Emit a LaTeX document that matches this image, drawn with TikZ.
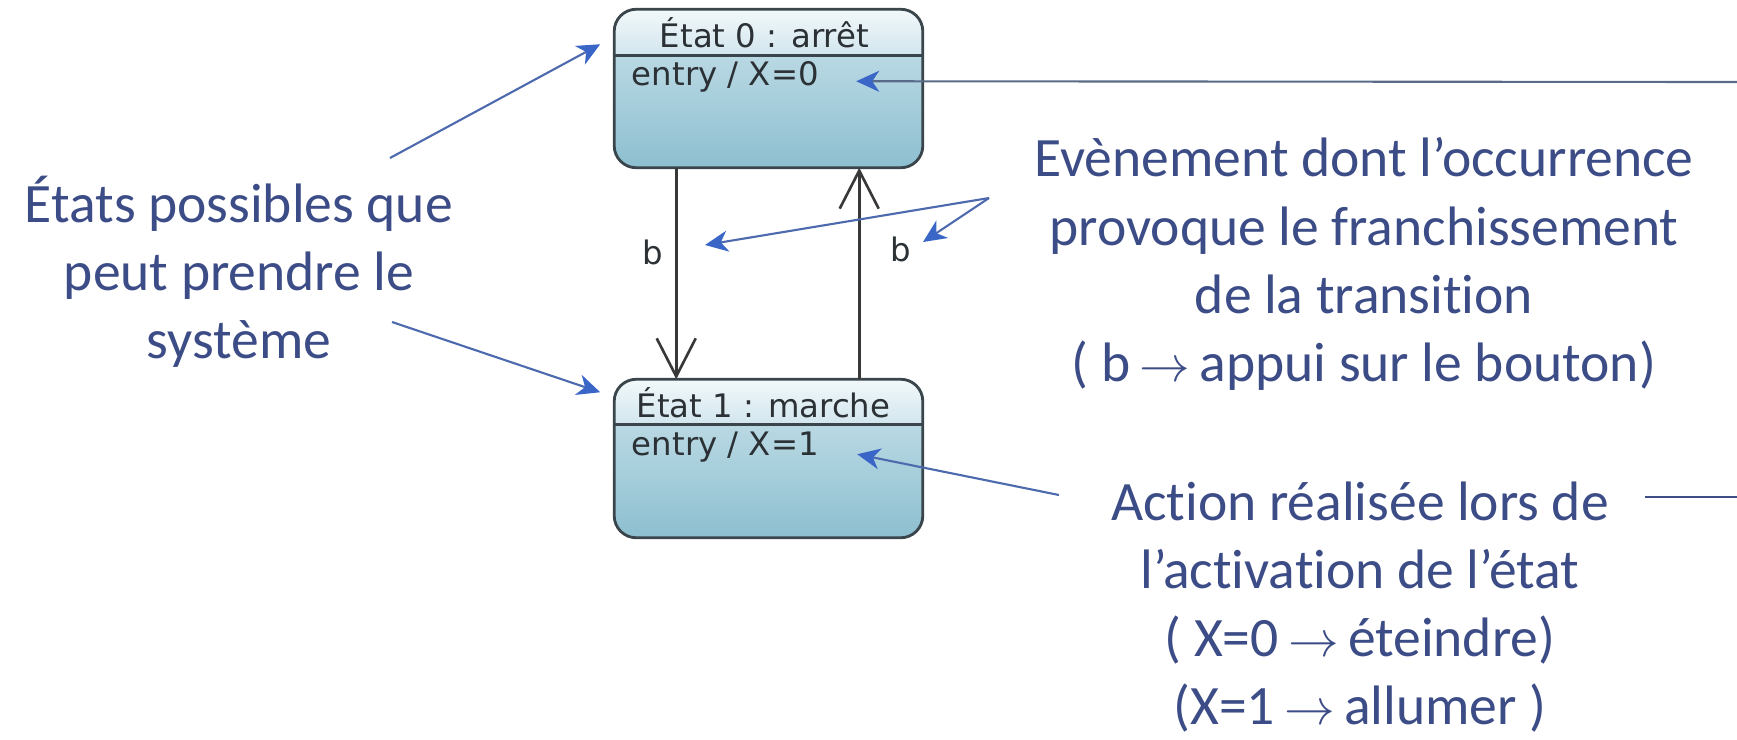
\documentclass[tikz,border=0pt]{standalone}
\usepackage{fontspec}
\setmainfont{Carlito}[Ligatures={NoCommon}]
\newfontfamily\boxfont{DejaVu Sans}
\usetikzlibrary{arrows.meta,calc}
\definecolor{annot}{HTML}{3C4C86}
\definecolor{aline}{HTML}{4D6AAE}
\definecolor{atip}{HTML}{3A66C8}
\definecolor{grayline}{HTML}{5A6B88}
\definecolor{navyline}{HTML}{3E4E86}
\definecolor{boxborder}{HTML}{3A464C}
\definecolor{hdtop}{HTML}{F2F8FA}
\definecolor{hdbot}{HTML}{D2E6EE}
\definecolor{bdtop}{HTML}{CBE3EB}
\definecolor{bdbot}{HTML}{8DBFD0}
\definecolor{transcol}{HTML}{383838}
\definecolor{boxtext}{HTML}{2B3135}
\newcommand{\myarrow}{\,$\rightarrow$\,}
\begin{document}
\begin{tikzpicture}[x=0.01cm,y=-0.01cm,
  statebox/.style={minimum width=3.07cm, minimum height=1.57cm, inner sep=0pt,
     rounded corners=0.22cm, top color=bdtop, bottom color=bdbot},
  boxline/.style={draw=boxborder, line width=0.8pt},
  boxtxt/.style={font=\boxfont\fontsize{9.2}{11}\selectfont, text=boxtext, inner sep=0pt},
  annot/.style={align=center, font=\fontsize{15.8}{19.4}\selectfont, text=annot, inner sep=0pt},
  transarrow/.style={draw=transcol, line width=0.75pt, -{Straight Barb[length=3.8mm,width=3.9mm]}},
  annarrow/.style={draw=aline, line width=0.6pt, -{Stealth[length=2.3mm,width=2.1mm,inset=0.7mm,color=atip,fill=atip]}},
]
\fill[white] (0,0) rectangle (1737,739);
\useasboundingbox (0,0) rectangle (1737,739);

% state 0
\node[statebox] (s0) at (768.5,88.5) {};
\begin{scope}
  \clip[rounded corners=0.22cm] (s0.north west) rectangle (s0.south east);
  \shade[top color=hdtop, bottom color=hdbot] (s0.north west) rectangle ($(s0.north east)+(0,46)$);
\end{scope}
\draw[boxline] ($(s0.north west)+(0,46)$) -- ($(s0.north east)+(0,46)$);
\draw[boxline, rounded corners=0.22cm] (s0.north west) rectangle (s0.south east);
\node[boxtxt] (s0t) at ($(s0.north)+(-4,23)$) {État 0 : arrêt};
\node[boxtxt, anchor=west] (s0e) at ($(s0.north west)+(17,68)$) {entry / X=0};

% state 1
\node[statebox] (s1) at (768.5,458.5) {};
\begin{scope}
  \clip[rounded corners=0.22cm] (s1.north west) rectangle (s1.south east);
  \shade[top color=hdtop, bottom color=hdbot] (s1.north west) rectangle ($(s1.north east)+(0,45)$);
\end{scope}
\draw[boxline] ($(s1.north west)+(0,45)$) -- ($(s1.north east)+(0,45)$);
\draw[boxline, rounded corners=0.22cm] (s1.north west) rectangle (s1.south east);
\node[boxtxt] (s1t) at ($(s1.north)+(-5,23)$) {État 1 : marche};
\node[boxtxt, anchor=west] (s1e) at ($(s1.north west)+(17,68)$) {entry / X=1};

% transitions
\coordinate (d0) at ($(s0.south west)+(62,0)$);
\coordinate (d1) at ($(s1.north west)+(62,0)$);
\coordinate (u1) at ($(s1.north west)+(245,0)$);
\coordinate (u0) at ($(s0.south west)+(245,0)$);
\draw[transarrow] (d0) -- (d1);
\draw[transarrow] (u1) -- (u0);
\node[boxtxt] (b1) at (653,252) {b};
\node[boxtxt] (b2) at (901,249) {b};

% annotation texts
\node[annot] (tleft) at (239,272) {États possibles que\\peut prendre le\\système};
\node[annot] (tright) at (1364,264) {Evènement dont l’occurrence\\provoque le franchissement\\de la transition\\( b\myarrow appui sur le bouton)};
\node[annot] (tbot) at (1360,607) {Action réalisée lors de\\l’activation de l’état\\( X=0\myarrow éteindre)\\(X=1\myarrow allumer )};

% annotation connectors
\coordinate (ls1) at (390,158);
\coordinate (lt1) at ($(s0.north west)+(-14,35)$);
\coordinate (ls2) at (392,322);
\coordinate (lt2) at ($(s1.north west)+(-14,13)$);
\draw[annarrow] (ls1) -- (lt1);
\draw[annarrow] (ls2) -- (lt2);

\coordinate (borig) at (989,198);
\coordinate (bt1) at ($(b1)+(52,-7)$);
\coordinate (bt2) at ($(b2)+(22,-7)$);
\draw[annarrow] (borig) -- (bt1);
\draw[annarrow] (borig) -- (bt2);

\coordinate (rtop) at (1737,82);
\coordinate (et0) at ($(s0.north west)+(242,72)$);
\draw[annarrow, draw=grayline] (rtop) -- (et0);

\coordinate (as) at (1059,495);
\coordinate (et1) at ($(s1.north west)+(243,75)$);
\draw[annarrow] (as) -- (et1);

\coordinate (rl0) at (1645,497);
\coordinate (rl1) at (1737,497);
\draw[draw=navyline, line width=0.6pt] (rl0) -- (rl1);
\end{tikzpicture}
\end{document}
